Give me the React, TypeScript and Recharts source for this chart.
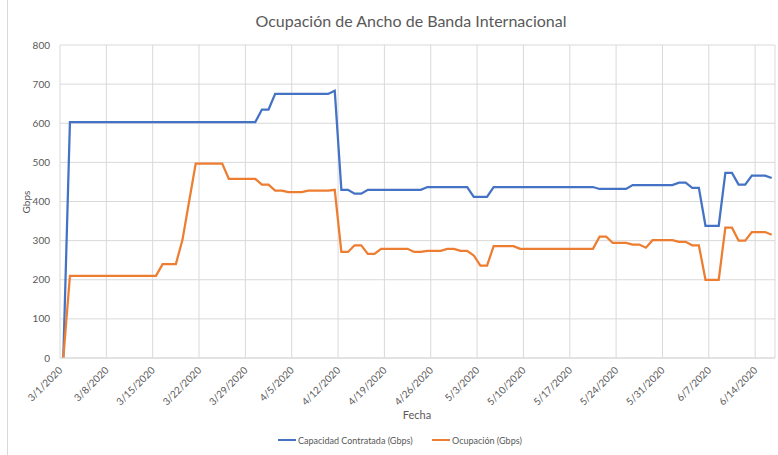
import React from 'react';
import { LineChart, Line, XAxis, YAxis, CartesianGrid } from 'recharts';

const FONT = "Lato, 'Open Sans', sans-serif";
const TEXT = '#595959';
const GRID = '#d9d9d9';
const BLUE = '#4472C4';
const ORANGE = '#ED7D31';

// one tick per week, first day = 3/1/2020 (day 0)
const tickDays = [0, 7, 14, 21, 28, 35, 42, 49, 56, 63, 70, 77, 84, 91, 98, 105];
const tickLabels = [
  '3/1/2020', '3/8/2020', '3/15/2020', '3/22/2020', '3/29/2020', '4/5/2020', '4/12/2020', '4/19/2020',
  '4/26/2020', '5/3/2020', '5/10/2020', '5/17/2020', '5/24/2020', '5/31/2020', '6/7/2020', '6/14/2020',
];
const yTicks = [0, 100, 200, 300, 400, 500, 600, 700, 800];

// daily values 3/1 .. 6/16
const capacidad = [
  0, 603, 603, 603, 603, 603, 603, 603, 603, 603,
  603, 603, 603, 603, 603, 603, 603, 603, 603, 603,
  603, 603, 603, 603, 603, 603, 603, 603, 603, 603,
  635, 635, 675, 675, 675, 675, 675, 675, 675, 675,
  675, 683, 430, 430, 420, 420, 430, 430, 430, 430,
  430, 430, 430, 430, 430, 437, 437, 437, 437, 437,
  437, 437, 412, 412, 412, 437, 437, 437, 437, 437,
  437, 437, 437, 437, 437, 437, 437, 437, 437, 437,
  437, 432, 432, 432, 432, 432, 442, 442, 442, 442,
  442, 442, 442, 448, 448, 435, 435, 338, 338, 338,
  473, 473, 443, 443, 466, 466, 466, 460,
];
const ocupacion = [
  0, 210, 210, 210, 210, 210, 210, 210, 210, 210,
  210, 210, 210, 210, 210, 240, 240, 240, 302, 400,
  497, 497, 497, 497, 497, 458, 458, 458, 458, 458,
  443, 443, 428, 428, 424, 424, 424, 428, 428, 428,
  428, 430, 271, 271, 288, 288, 266, 266, 279, 279,
  279, 279, 279, 271, 271, 274, 274, 274, 279, 279,
  274, 274, 262, 236, 236, 286, 286, 286, 286, 279,
  279, 279, 279, 279, 279, 279, 279, 279, 279, 279,
  279, 310, 310, 294, 294, 294, 290, 290, 282, 301,
  301, 301, 301, 297, 297, 288, 288, 200, 200, 200,
  333, 333, 300, 300, 322, 322, 322, 315,
];

const data = capacidad.map((c, i) => ({ day: i + 0.5, capacidad: c, ocupacion: ocupacion[i] }));

const DateTick = ({ x, y, payload }: any) => {
  const idx = tickDays.indexOf(payload.value);
  return (
    <text
      transform={`translate(${x + 3},${y + 5}) rotate(-45)`}
      textAnchor="end"
      fontSize={10}
      fill={TEXT}
      fontFamily={FONT}
    >
      {idx >= 0 ? tickLabels[idx] : ''}
    </text>
  );
};

const LegendItem = ({ left, color, text }: { left: number; color: string; text: string }) => (
  <div style={{ position: 'absolute', left, top: 433, display: 'flex', alignItems: 'center', height: 14 }}>
    <span style={{ display: 'inline-block', width: 18, height: 2, background: color, marginRight: 2 }} />
    <span style={{ fontSize: 9, color: TEXT, fontFamily: FONT, whiteSpace: 'nowrap' }}>{text}</span>
  </div>
);

export default function App() {
  return (
    <div style={{ position: 'absolute', left: 0, top: 0, width: 778, height: 455, overflow: 'hidden', background: '#fff' }}>
      <div style={{ position: 'absolute', left: 7, top: 0, width: 1, height: 455, background: GRID }} />
      <div
        style={{
          position: 'absolute', top: 11, left: 44, width: 734, textAlign: 'center',
          fontSize: 16, color: TEXT, fontFamily: FONT,
        }}
      >
        Ocupación de Ancho de Banda Internacional
      </div>
      <LineChart width={778} height={455} data={data} margin={{ top: 45, right: 3, left: 10, bottom: 0 }}>
        <CartesianGrid stroke={GRID} strokeWidth={1} />
        <XAxis
          type="number"
          dataKey="day"
          domain={[0, 108]}
          ticks={tickDays}
          interval={0}
          height={97}
          tick={<DateTick />}
          tickLine={false}
          axisLine={{ stroke: GRID }}
          label={{
            content: () => (
              <text x={417} y={419} textAnchor="middle" fontSize={11} fill={TEXT} fontFamily={FONT}>Fecha</text>
            ),
          }}
        />
        <YAxis
          type="number"
          domain={[0, 800]}
          ticks={yTicks}
          width={50}
          tickLine={false}
          axisLine={false}
          tickMargin={4}
          tick={{ fontSize: 10, fill: TEXT, fontFamily: FONT }}
          label={{
            content: () => (
              <text transform="translate(30,202) rotate(-90)" textAnchor="middle" fontSize={10} fill={TEXT} fontFamily={FONT}>Gbps</text>
            ),
          }}
        />
        <Line type="linear" dataKey="capacidad" stroke={BLUE} strokeWidth={2.25} dot={false} isAnimationActive={false} />
        <Line type="linear" dataKey="ocupacion" stroke={ORANGE} strokeWidth={2.25} dot={false} isAnimationActive={false} />
      </LineChart>
      <LegendItem left={278} color={BLUE} text="Capacidad Contratada (Gbps)" />
      <LegendItem left={432} color={ORANGE} text="Ocupación (Gbps)" />
    </div>
  );
}
